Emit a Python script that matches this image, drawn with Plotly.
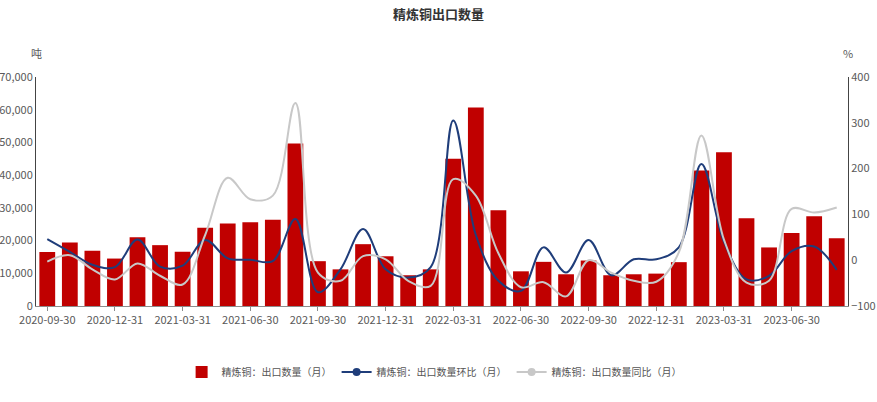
import plotly.graph_objects as go
import pandas as pd

# categories: month-end dates
months = pd.date_range("2020-09-30", periods=36, freq="ME").strftime("%Y-%m-%d").tolist()

# 精炼铜：出口数量（月） — tonnes
export_qty = [16500, 19400, 16900, 14500, 21000, 18600, 16600, 23900, 25200, 25600, 26400, 49700,
              13700, 11200, 18900, 15200, 9400, 11200, 45000, 60700, 29300, 10600, 13500, 9700,
              13900, 9400, 9700, 9900, 13400, 41400, 47000, 26800, 17900, 22300, 27400, 20700]

# 精炼铜：出口数量环比（月） — %
mom = [46, 18, -10, -15, 45, -14, -12, 44, 4, 1, -2, 90,
       -70, -20, 68, -20, -38, -15, 305, 55, -45, -67, 28, -27,
       44, -33, 2, 2, 28, 210, 40, -42, -34, 20, 30, -21]

# 精炼铜：出口数量同比（月） — %
yoy = [-3, 11, -20, -42, -7, -34, -53, 55, 180, 133, 141, 343,
       -27, -45, 9, 2, -45, -56, 177, 141, 15, -59, -48, -79,
       0, -27, -45, -47, 17, 272, 45, -49, -45, 112, 104, 115]

tick_labels = months[::3]

RED = "#C00000"
BLUE = "#1F3D7A"
GRAY = "#C8C8C8"
FONT = "Noto Sans CJK SC"

fig = go.Figure()
fig.add_trace(go.Bar(x=months, y=export_qty, name="精炼铜：出口数量（月）",
                     marker=dict(color=RED, line=dict(width=0)), yaxis="y"))
fig.add_trace(go.Scatter(x=months, y=mom, mode="lines", line=dict(color=BLUE, width=2, shape="spline", smoothing=1),
                         yaxis="y2", showlegend=False))
fig.add_trace(go.Scatter(x=months, y=yoy, mode="lines", line=dict(color=GRAY, width=2, shape="spline", smoothing=1),
                         yaxis="y2", showlegend=False))
# legend entries with markers
fig.add_trace(go.Scatter(x=[None], y=[None], mode="lines+markers", name="精炼铜：出口数量环比（月）",
                         line=dict(color=BLUE, width=2), marker=dict(color=BLUE, size=8), yaxis="y2"))
fig.add_trace(go.Scatter(x=[None], y=[None], mode="lines+markers", name="精炼铜：出口数量同比（月）",
                         line=dict(color=GRAY, width=2), marker=dict(color=GRAY, size=8), yaxis="y2"))

fig.update_layout(
    width=877, height=402,
    margin=dict(l=36, r=29, t=77, b=96, autoexpand=False),
    paper_bgcolor="white", plot_bgcolor="white",
    font=dict(family=FONT, size=11, color="#595959"),
    bargap=0.3,
    title=dict(text="<b>精炼铜出口数量</b>", font=dict(family=FONT, size=13, color="#333333"),
               x=0.5, xref="container", xanchor="center", y=1 - 14 / 402, yref="container", yanchor="middle"),
    xaxis=dict(type="category", categoryorder="array", categoryarray=months, automargin=False,
               tickmode="array", tickvals=tick_labels, ticktext=tick_labels,
               showline=True, linecolor="#8c8c8c", linewidth=1, ticks="outside", ticklen=4,
               tickcolor="#8c8c8c", showgrid=False, tickangle=0, tickfont=dict(size=11)),
    yaxis=dict(range=[0, 70000], dtick=10000, tickformat=",", showline=True, linecolor="#444444",
               automargin=False, showgrid=False, zeroline=False, ticks="", tickfont=dict(size=11)),
    yaxis2=dict(range=[-100, 400], dtick=100, overlaying="y", side="right", showline=True, automargin=False,
                linecolor="#444444", showgrid=False, zeroline=False, ticks="", tickfont=dict(size=11)),
    legend=dict(orientation="h", xref="container", x=0.495, xanchor="center",
                yref="container", y=1 - 372 / 402, yanchor="middle",
                font=dict(size=10, color="#555555"), itemwidth=30, traceorder="normal"),
    annotations=[
        dict(text="吨", xref="paper", yref="paper", x=0, y=1 + 24 / 229, xanchor="center", yanchor="middle",
             showarrow=False, font=dict(size=11, color="#595959")),
        dict(text="%", xref="paper", yref="paper", x=1, y=1 + 24 / 229, xanchor="center", yanchor="middle",
             showarrow=False, font=dict(size=11, color="#595959")),
    ],
)

fig.write_html("out.html")
